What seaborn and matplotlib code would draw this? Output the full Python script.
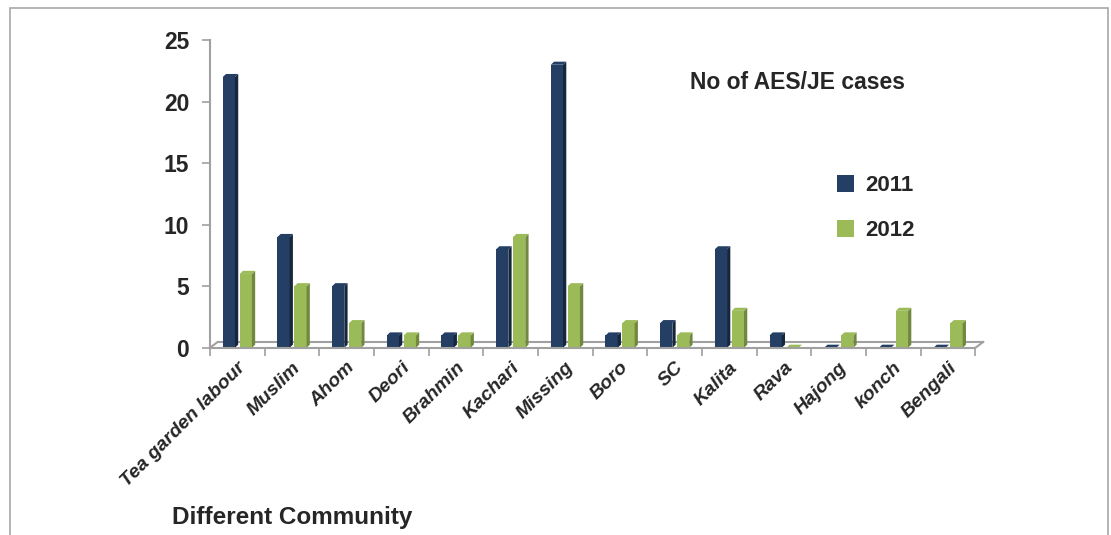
import matplotlib
matplotlib.use("Agg")
import matplotlib.pyplot as plt
import matplotlib.transforms as mtransforms
from matplotlib.patches import Polygon, Rectangle
from matplotlib.lines import Line2D
import seaborn as sns
import pandas as pd
import numpy as np

communities = ["Tea garden labour", "Muslim", "Ahom", "Deori", "Brahmin", "Kachari",
               "Missing", "Boro", "SC", "Kalita", "Rava", "Hajong", "konch", "Bengali"]
cases_2011 = [22, 9, 5, 1, 1, 8, 23, 1, 2, 8, 1, 0, 0, 0]
cases_2012 = [6, 5, 2, 1, 1, 9, 5, 2, 1, 3, 0, 1, 3, 2]
years = ["2011", "2012"]

df = pd.DataFrame({
    "Community": communities * 2,
    "Year": [years[0]] * len(communities) + [years[1]] * len(communities),
    "Cases": cases_2011 + cases_2012,
})

sns.set_theme(style="white")
plt.rcParams['font.family'] = ['Liberation Sans', 'DejaVu Sans']

navy = "#243F63"
green = "#9BBB59"
navy_side = "#15263D"
green_side = "#71893F"

fig = plt.figure(figsize=(11.11, 5.35), dpi=100)
ax = fig.add_axes([0.189, 0.350, 0.689, 0.575])

sns.barplot(data=df, x="Community", y="Cases", hue="Year", palette=[navy, green],
            width=0.62, gap=0.28, ax=ax, saturation=1, edgecolor="none")

# 3D-like side and top faces derived from library bars
dx, dy = 0.06, 0.25
for p in list(ax.patches):
    if not isinstance(p, Rectangle):
        continue
    x, w, h = p.get_x(), p.get_width(), p.get_height()
    if w <= 0 or w > 1:
        continue
    fc = p.get_facecolor()
    is_navy = fc[2] > fc[1] and fc[0] < 0.3
    side = navy_side if is_navy else green_side
    ax.add_patch(Polygon([(x + w, 0), (x + w + dx, dy), (x + w + dx, h + dy), (x + w, h)],
                         closed=True, facecolor=side, edgecolor="none", zorder=p.get_zorder()))
    ax.add_patch(Polygon([(x, h), (x + dx, h + dy), (x + w + dx, h + dy), (x + w, h)],
                         closed=True, facecolor=fc, edgecolor="none", zorder=p.get_zorder()))

ax.set_ylim(0, 25)
ax.set_xlim(-0.5, len(communities) - 0.5)
ax.set_yticks([0, 5, 10, 15, 20, 25])
ax.set_yticklabels(["0", "5", "10", "15", "20", "25"], fontsize=16.5, fontweight="bold")
ax.set_xticks(np.arange(len(communities)))
ax.set_xticklabels(communities, rotation=45, ha="right", rotation_mode="anchor",
                   fontsize=14, fontweight="bold", fontstyle="italic")
ax.set_xticks(np.arange(-0.5, len(communities), 1), minor=True)
ax.tick_params(axis="x", which="major", length=0, pad=8)
ax.tick_params(axis="x", which="minor", length=6, color="#A0A0A0", width=1.2, direction="out", bottom=True)
ax.tick_params(axis="y", which="major", length=6, color="#A0A0A0", width=1.2, direction="out", left=True, pad=9)
ax.set_xlabel("")
ax.set_ylabel("")

for s in ["top", "right"]:
    ax.spines[s].set_visible(False)
for s in ["left", "bottom"]:
    ax.spines[s].set_color("#A0A0A0")
    ax.spines[s].set_linewidth(1.5)

# floor back edge
off = mtransforms.offset_copy(ax.transData, fig=fig, x=8, y=6, units="dots")
ax.plot([-0.5, len(communities) - 0.5], [0, 0], color="#A0A0A0", lw=1.5, transform=off, zorder=0.5, clip_on=False)
xr = len(communities) - 0.5
inv = fig.transFigure.inverted()
for xe in [-0.5, xr]:
    a = ax.transData.transform((xe, 0))
    b = off.transform((xe, 0))
    fa, fb = inv.transform(a), inv.transform(b)
    fig.add_artist(Line2D([fa[0], fb[0]], [fa[1], fb[1]], color="#A0A0A0", lw=1.5))

leg = ax.legend(loc="upper left", bbox_to_anchor=(0.735, 0.71), bbox_transform=fig.transFigure,
                frameon=False, fontsize=16, handlelength=0.8, handleheight=0.8,
                labelspacing=1.05, handletextpad=0.5)
for t in leg.get_texts():
    t.set_fontweight("bold")

fig.text(0.621, 0.845, "No of AES/JE cases", fontsize=16.5, fontweight="bold", ha="left", va="center")
fig.text(0.155, 0.032, "Different Community", fontsize=17.5, fontweight="bold", ha="left", va="center")

fig.add_artist(Rectangle((0.009, -0.05), 0.988, 1.035, transform=fig.transFigure,
                         fill=False, edgecolor="#A8A8A8", lw=1.2))

fig.savefig("out.png", dpi=100)
